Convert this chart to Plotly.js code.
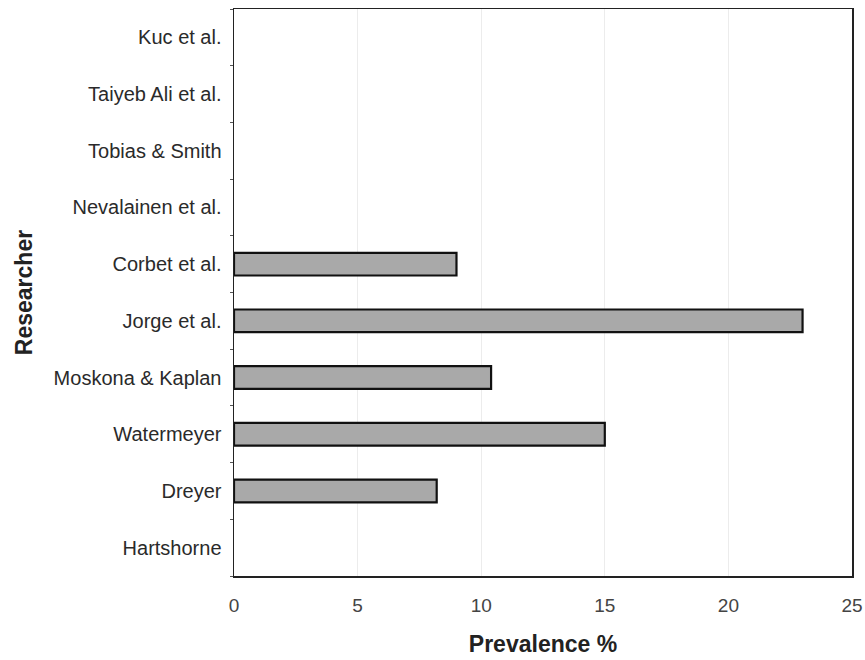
<!DOCTYPE html>
<html>
<head>
<meta charset="utf-8">
<script src="https://cdn.plot.ly/plotly-3.0.1.min.js"></script>
<style>html,body{margin:0;padding:0;background:#fff;}#chart{width:865px;height:660px;}</style>
</head>
<body>
<div id="chart"></div>
<script>
const researchers = ["Hartshorne", "Dreyer", "Watermeyer", "Moskona & Kaplan", "Jorge et al.", "Corbet et al.", "Nevalainen et al.", "Tobias & Smith", "Taiyeb Ali et al.", "Kuc et al."];
const prevalence = [0, 8.2, 15, 10.4, 23, 9, 0, 0, 0, 0];
const xTicks = [0, 5, 10, 15, 20, 25];

const trace = {
  type: 'bar',
  orientation: 'h',
  x: prevalence,
  y: researchers,
  width: 0.4,
  marker: {color: '#a9a9a9', line: {color: '#111', width: prevalence.map(v => v > 0 ? 2.2 : 0)}},
  hoverinfo: 'x+y'
};

const FONT = 'Liberation Sans, Arial, sans-serif';
const layout = {
  width: 865, height: 660,
  margin: {l: 234, r: 13, t: 9, b: 84},
  paper_bgcolor: '#fff', plot_bgcolor: '#fff',
  font: {family: FONT, color: '#222', size: 14},
  showlegend: false,
  xaxis: {
    range: [0, 25], tickvals: xTicks, ticktext: xTicks.map(String),
    showgrid: true, gridcolor: '#ececec', gridwidth: 1,
    zeroline: false, showline: true, mirror: true, linecolor: '#222', linewidth: 1.5,
    ticks: '', ticklabelstandoff: 12,
    tickfont: {size: 19, color: '#444', family: FONT},
    title: {text: 'Prevalence %', font: {size: 23, color: '#222', family: FONT, weight: 'bold'}, standoff: 20}
  },
  yaxis: {
    type: 'category', categoryorder: 'array', categoryarray: researchers,
    range: [-0.5, 9.5],
    showgrid: false, zeroline: false, showline: true, mirror: true, linecolor: '#222', linewidth: 1.5,
    ticks: 'outside', ticklen: 3, tickcolor: '#555', tickson: 'boundaries',
    ticklabelstandoff: 7,
    tickfont: {size: 20, color: '#2a2a2a', family: FONT},
    title: {text: 'Researcher', font: {size: 23, color: '#222', family: FONT, weight: 'bold'}, standoff: 14}
  }
};

Plotly.newPlot('chart', [trace], layout, {displayModeBar: false, staticPlot: true});
</script>
</body>
</html>
